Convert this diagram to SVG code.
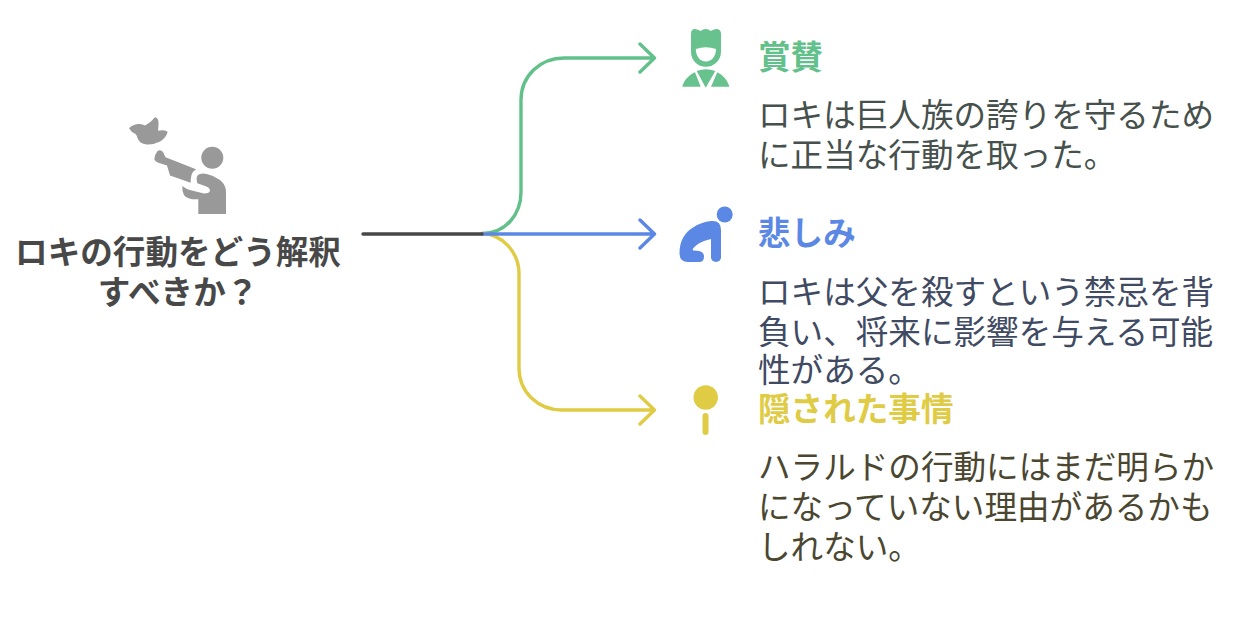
<svg xmlns="http://www.w3.org/2000/svg" width="1252" height="632" viewBox="0 0 1252 632">
<style>
text{font-family:"Liberation Sans","Noto Sans CJK JP",sans-serif;font-size:32.6px}
.t{font-weight:700}
.c{fill:none;stroke-width:3.4;stroke-linecap:round;stroke-linejoin:round}
.g{stroke:#62c08a}.b{stroke:#5b88e4}.y{stroke:#e0cb44}
</style>
<rect width="1252" height="632" fill="#fff"/>
<g id="connectors">
<path class="c g" d="M482 233.500C506 233.500 521 214 521 192V100C521 76 540 58 564 58H654M640 44L654.500 58L640 72"/>
<path class="c y" d="M482 233.500C502 234 519 252 519 274V368C519 392 538 410 562 410H654M640 396L654.500 410L640 424"/>
<path class="c b" d="M482 234H654M640 220L654.500 234L640 248"/>
<path class="c" stroke="#484848" d="M363 234H482"/>
</g>
<g id="root" fill="#999">
<path d="M129 128.300Q133 124.500 138 124Q142 123.500 145 125.500Q151 122.500 155 117.300Q158.500 118 158.500 123Q158.500 128 158 130.700Q164 129.500 167.700 131.700Q166 138 160 141.500Q153 145 146.700 144.500Q139 143.500 137.500 138Q137 135.500 135.500 134Q131 132 129 128.300Z"/>
<path d="M154.300 159.300Q155 154 157.500 151Q161 149 163.300 152.500L165.500 157.300L196 169.300Q192 172 191.500 175Q190.500 179 190.700 182.700L170 175.500L167 165.500L158.300 162.800Q155 161.500 154.300 159.300Z"/>
<path d="M196.700 180Q196 175 200 174Q203 173 206.700 174Q214 175.500 220 180Q226 185 226 192V214H198.300V199.300H192Q186 198 184 195Q182 191 182.300 186Q186 189 190 190L204 193.500Q210 193.500 210 190Q209 187 205 186L197.300 183.300Z"/>
<circle cx="212.300" cy="157.700" r="11"/>
<text class="t" x="178" y="263.500" text-anchor="middle" fill="#484848">ロキの行動をどう解釈</text>
<text class="t" x="178" y="303.500" text-anchor="middle" fill="#484848">すべきか？</text>
</g>
<g id="n1">
<path fill="#68c28e" fill-rule="evenodd" d="M691 34Q691 29 695 29Q698 29.500 700.700 31Q703 29 705.700 29Q708.500 29 710.700 31Q713 29.500 716 29Q721 29 721 34V51.700C721 60.500 714 66.700 705.900 66.700C697.500 66.700 691 60.500 691 51.700ZM695.800 49C695.800 56 700 61.500 705.900 61.500C711.800 61.500 716 56 716 49Q705.900 45.500 695.800 49Z"/>
<path fill="#68c28e" d="M682.300 86.700C684 80 689 75 695 72.300L700.700 86.700ZM696.700 71Q705.700 67.500 715.300 71L705.700 87.700ZM717.300 72.300C723 75 728 81 729.300 86.700H711Z"/>
<text class="t" x="758" y="68.500" fill="#62c08a">賞賛</text>
<text x="758" y="126.500" fill="#46504c">ロキは巨人族の誇りを守るため</text>
<text x="758" y="166.500" fill="#46504c">に正当な行動を取った。</text>
</g>
<g id="n2">
<circle cx="724.700" cy="214.500" r="8" fill="#5b88e4"/>
<path fill="#5b88e4" d="M679.500 253C679.500 241 685 232 693 227.500Q701 222 711 221Q721 220 721 230V257C721 263.500 711 263.500 711 257V239Q701 241 696 245.500Q691 250 693.500 250.500L699 251Q704 252 704 256.500Q704 262 699 262H688Q679.500 262 679.500 253Z"/>
<text class="t" x="758" y="244.500" fill="#5b88e4">悲しみ</text>
<text x="758" y="303.500" fill="#404a62">ロキは父を殺すという禁忌を背</text>
<text x="758" y="343.500" fill="#404a62">負い、将来に影響を与える可能</text>
<text x="758" y="381.500" fill="#404a62">性がある。</text>
</g>
<g id="n3">
<circle cx="705.700" cy="397.500" r="12.200" fill="#e0cb44"/>
<rect x="702.500" y="413" width="6" height="22" rx="3" fill="#e0cb44"/>
<text class="t" x="758" y="420.500" fill="#e0cb44">隠された事情</text>
<text x="758" y="478.500" fill="#4a4630">ハラルドの行動にはまだ明らか</text>
<text x="758" y="518.500" fill="#4a4630">になっていない理由があるかも</text>
<text x="758" y="558.500" fill="#4a4630">しれない。</text>
</g>
</svg>
